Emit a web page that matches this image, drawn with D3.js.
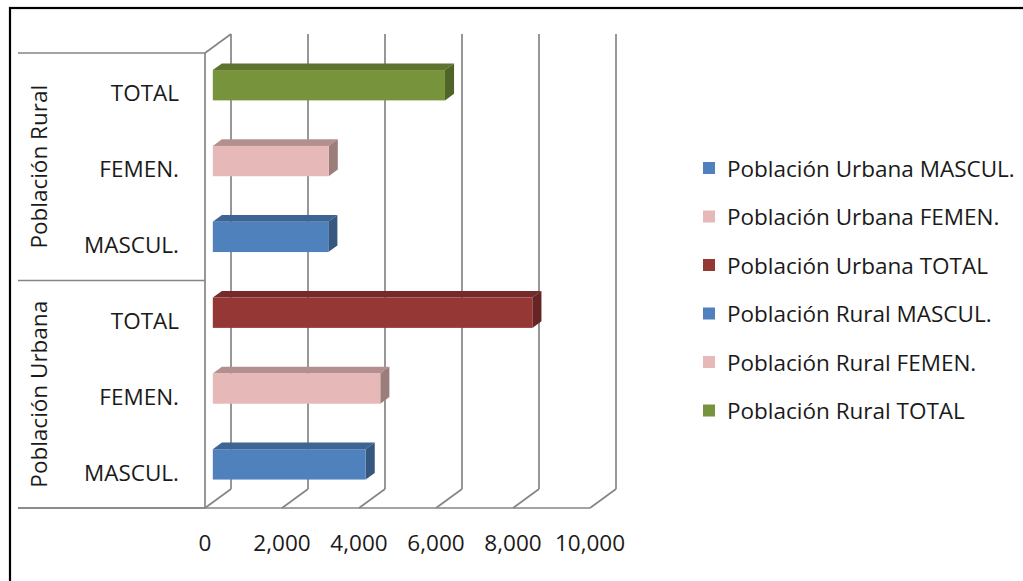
<!DOCTYPE html>
<html>
<head>
<meta charset="utf-8">
<script src="https://cdn.jsdelivr.net/npm/d3@7"></script>
<style>
  html, body { margin: 0; padding: 0; background: #fff; }
  svg { display: block; }
  text { font-family: "Open Sans", Lato, sans-serif; fill: #1a1a1a; }
</style>
</head>
<body>
<script>
// Population by area and sex (3-D clustered bars)
const groups = ["Población Rural", "Población Urbana"];
const subcategories = ["TOTAL", "FEMEN.", "MASCUL."];        // top to bottom inside each group
const ruralValues = [6030, 3010, 3000];                       // TOTAL, FEMEN., MASCUL.
const urbanValues = [8300, 4350, 3970];                       // TOTAL, FEMEN., MASCUL.
const ruralColors = ["#77933C", "#E6B9B8", "#4F81BD"];
const urbanColors = ["#953735", "#E6B9B8", "#4F81BD"];
const legendNames = [
  "Población Urbana MASCUL.", "Población Urbana FEMEN.", "Población Urbana TOTAL",
  "Población Rural MASCUL.", "Población Rural FEMEN.", "Población Rural TOTAL"
];
const legendColors = ["#4F81BD", "#E6B9B8", "#953735", "#4F81BD", "#E6B9B8", "#77933C"];
const xTicks = [0, 2000, 4000, 6000, 8000, 10000];

const W = 1023, H = 581;
const svg = d3.select("body").append("svg").attr("width", W).attr("height", H);

// rows, top to bottom
const rows = [];
groups.forEach((g, gi) => {
  const vals = gi === 0 ? ruralValues : urbanValues;
  const cols = gi === 0 ? ruralColors : urbanColors;
  subcategories.forEach((c, ci) => rows.push({ id: g + "|" + c, group: g, cat: c, value: vals[ci], color: cols[ci] }));
});

// front plane of the plot box
const plotTop = 53, plotBottom = 508, wallLeft = 18;
const x = d3.scaleLinear().domain([0, 10000]).range([205, 590]);
const y = d3.scaleBand().domain(rows.map(r => r.id)).range([plotTop, plotBottom])
  .paddingInner(0.6).paddingOuter(0.3);
const depthX = 26, depthY = -19;             // full-depth offset of the back wall
const barFront = 0.3, barBack = 0.65;        // bar position within the depth

const gridColor = "#858585";
const fontSize = 22.5;

// outer frame
svg.append("rect").attr("x", 10).attr("y", 8).attr("width", W).attr("height", H)
  .attr("fill", "none").attr("stroke", "#000").attr("stroke-width", 2.2);

const walls = svg.append("g").attr("stroke", gridColor).attr("stroke-width", 1.7).attr("fill", "none");

// back wall gridlines
walls.selectAll("line.grid").data(xTicks).join("line").attr("class", "grid")
  .attr("x1", d => x(d) + depthX).attr("x2", d => x(d) + depthX)
  .attr("y1", plotTop + depthY).attr("y2", plotBottom + depthY);

// floor diagonals
walls.selectAll("line.floor").data(xTicks).join("line").attr("class", "floor")
  .attr("x1", d => x(d)).attr("x2", d => x(d) + depthX)
  .attr("y1", plotBottom).attr("y2", plotBottom + depthY);

// floor front edge
walls.append("line").attr("x1", wallLeft).attr("x2", x(10000))
  .attr("y1", plotBottom).attr("y2", plotBottom);

// left wall
walls.append("line").attr("x1", x(0)).attr("x2", x(0)).attr("y1", plotTop).attr("y2", plotBottom);
walls.append("line").attr("x1", x(0)).attr("x2", x(0) + depthX).attr("y1", plotTop).attr("y2", plotTop + depthY);

// group separators on the category axis
const step = y.step();
const groupEdges = [plotTop, plotTop + step * 3, plotBottom];
walls.selectAll("line.sep").data(groupEdges).join("line").attr("class", "sep")
  .attr("x1", wallLeft).attr("x2", x(0)).attr("y1", d => d).attr("y2", d => d);

// bars
const ddx = (barBack - barFront) * depthX, ddy = (barBack - barFront) * depthY;
const bars = svg.append("g").selectAll("g").data(rows).join("g");
bars.each(function (d) {
  const g = d3.select(this);
  const x0 = x(0) + barFront * depthX, x1 = x(d.value) + barFront * depthX;
  const y0 = y(d.id) + barFront * depthY, h = y.bandwidth();
  const c = d3.color(d.color);
  g.append("polygon")
    .attr("points", [[x0, y0], [x1, y0], [x1 + ddx, y0 + ddy], [x0 + ddx, y0 + ddy]].join(" "))
    .attr("fill", c.darker(0.7));
  g.append("polygon")
    .attr("points", [[x1, y0], [x1 + ddx, y0 + ddy], [x1 + ddx, y0 + h + ddy], [x1, y0 + h]].join(" "))
    .attr("fill", c.darker(1.1));
  g.append("rect").attr("x", x0).attr("y", y0).attr("width", x1 - x0).attr("height", h)
    .attr("fill", c);
});

// value axis labels
svg.append("g").selectAll("text").data(xTicks).join("text")
  .attr("x", d => x(d)).attr("y", 542)
  .attr("text-anchor", "middle").attr("dominant-baseline", "central")
  .attr("font-size", fontSize)
  .text(d => d3.format(",")(d));

// category labels
svg.append("g").selectAll("text").data(rows).join("text")
  .attr("x", 179).attr("y", d => y(d.id) + y.bandwidth() / 2 + 2)
  .attr("text-anchor", "end").attr("dominant-baseline", "central")
  .attr("font-size", fontSize)
  .text(d => d.cat);

// group labels
svg.append("g").selectAll("text").data(groups).join("text")
  .attr("transform", (d, i) => `translate(38,${(groupEdges[i] + groupEdges[i + 1]) / 2}) rotate(-90)`)
  .attr("text-anchor", "middle").attr("dominant-baseline", "central")
  .attr("font-size", fontSize)
  .text(d => d);

// legend
const legend = svg.append("g").selectAll("g").data(legendNames).join("g")
  .attr("transform", (d, i) => `translate(703,${168 + i * 48.5})`);
legend.append("rect").attr("x", 0).attr("y", -6).attr("width", 12).attr("height", 12)
  .attr("fill", (d, i) => legendColors[i]);
legend.append("text").attr("x", 24).attr("y", 0).attr("dominant-baseline", "central")
  .attr("font-size", fontSize).text(d => d);
</script>
</body>
</html>
